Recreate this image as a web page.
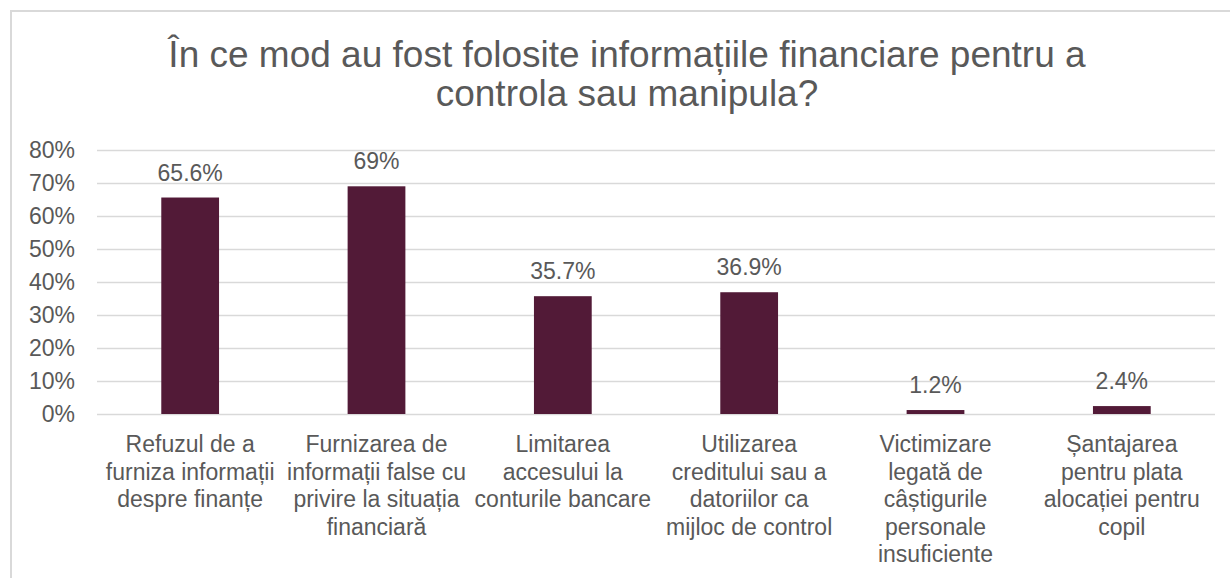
<!DOCTYPE html>
<html>
<head>
<meta charset="utf-8">
<script src="https://cdn.jsdelivr.net/npm/d3@7"></script>
<style>
  body { margin: 0; background: #ffffff; }
  text { font-family: "Liberation Sans", Arial, sans-serif; fill: #595959; }
</style>
</head>
<body>
<div id="chart"></div>
<script>
var title_lines = ["În ce mod au fost folosite informațiile financiare pentru a", "controla sau manipula?"];

var categories = [
  ["Refuzul de a", "furniza informații", "despre finanțe"],
  ["Furnizarea de", "informații false cu", "privire la situația", "financiară"],
  ["Limitarea", "accesului la", "conturile bancare"],
  ["Utilizarea", "creditului sau a", "datoriilor ca", "mijloc de control"],
  ["Victimizare", "legată de", "câștigurile", "personale", "insuficiente"],
  ["Șantajarea", "pentru plata", "alocației pentru", "copil"]
];

var values = [65.6, 69, 35.7, 36.9, 1.2, 2.4];
var value_labels = ["65.6%", "69%", "35.7%", "36.9%", "1.2%", "2.4%"];
var y_ticks = [0, 10, 20, 30, 40, 50, 60, 70, 80];

var width = 1230, height = 578;
var margin = { top: 150, right: 15, bottom: 164, left: 97 };

var svg = d3
  .select("#chart")
  .append("svg")
  .attr("width", width)
  .attr("height", height);

// Chart border
svg
  .append("rect")
  .attr("x", 11)
  .attr("y", 11)
  .attr("width", width + 20)
  .attr("height", height + 20)
  .attr("fill", "none")
  .attr("stroke", "#d9d9d9")
  .attr("stroke-width", 2);

// Title
svg
  .selectAll(".title")
  .data(title_lines)
  .enter()
  .append("text")
  .attr("class", "title")
  .attr("x", 627)
  .attr("y", (d, i) => 66.5 + i * 39)
  .attr("text-anchor", "middle")
  .style("font-size", "37px")
  .text((d) => d);

var x = d3
  .scaleBand()
  .domain(d3.range(categories.length))
  .range([margin.left, width - margin.right])
  .paddingInner(0.69)
  .paddingOuter(0.345);

var y = d3
  .scaleLinear()
  .domain([0, 80])
  .range([height - margin.bottom, margin.top]);

// Gridlines
svg
  .selectAll(".grid")
  .data(y_ticks)
  .enter()
  .append("line")
  .attr("x1", margin.left)
  .attr("x2", width - margin.right)
  .attr("y1", (d) => Math.round(y(d)) + 0.5)
  .attr("y2", (d) => Math.round(y(d)) + 0.5)
  .attr("stroke", "#d9d9d9")
  .attr("stroke-width", 1.5);

// Y tick labels
svg
  .selectAll(".ytick")
  .data(y_ticks)
  .enter()
  .append("text")
  .attr("x", 75)
  .attr("y", (d) => y(d) + 8)
  .attr("text-anchor", "end")
  .style("font-size", "23px")
  .text((d) => d + "%");

// Bars
svg
  .selectAll(".bar")
  .data(values)
  .enter()
  .append("rect")
  .attr("x", (d, i) => x(i))
  .attr("y", (d) => y(d))
  .attr("width", x.bandwidth())
  .attr("height", (d) => y(0) - y(d))
  .attr("fill", "#521a37");

// Value labels
svg
  .selectAll(".vlabel")
  .data(values)
  .enter()
  .append("text")
  .attr("x", (d, i) => x(i) + x.bandwidth() / 2)
  .attr("y", (d) => y(d) - 17)
  .attr("text-anchor", "middle")
  .style("font-size", "23px")
  .text((d, i) => value_labels[i]);

// Category labels
var cat = svg
  .selectAll(".cat")
  .data(categories)
  .enter()
  .append("text")
  .attr("text-anchor", "middle")
  .style("font-size", "23px");

cat
  .selectAll("tspan")
  .data((d, i) => d.map((line) => ({ line: line, i: i })))
  .enter()
  .append("tspan")
  .attr("x", (d) => x(d.i) + x.bandwidth() / 2)
  .attr("y", (d, j) => 452 + j * 27.6)
  .text((d) => d.line);
</script>
</body>
</html>
